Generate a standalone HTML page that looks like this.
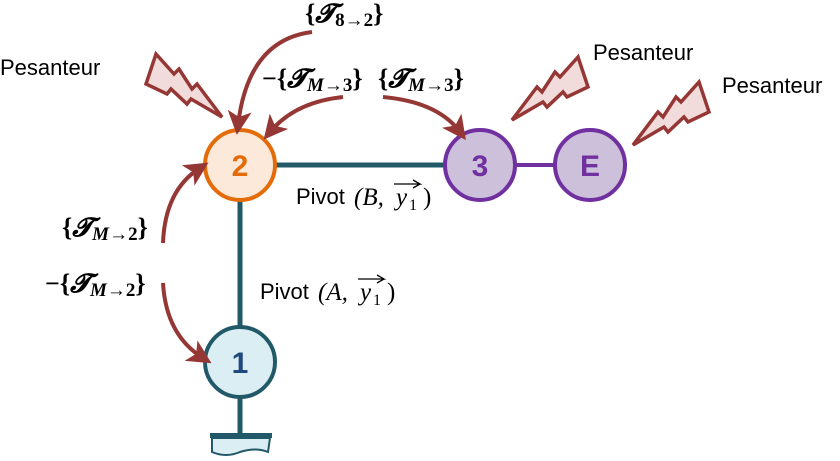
<!DOCTYPE html>
<html><head><meta charset="utf-8"><style>
body{margin:0;background:#fff;}
svg{display:block;font-family:"Liberation Sans",sans-serif;}
.m{font-family:"Liberation Serif",serif;font-weight:bold;}
.s{font-family:"Liberation Serif",serif;font-style:italic;}
</style></head><body>
<svg width="840" height="461" viewBox="0 0 840 461" xmlns="http://www.w3.org/2000/svg">
<defs>
<marker id="ah" markerWidth="6" markerHeight="6" refX="3.5" refY="3" orient="auto" markerUnits="strokeWidth">
<path d="M0,0 L6,3 L0,6 L1.5,3 z" fill="#953735"/></marker>
<g id="bolt"><polygon points="512,120 537,87 542,92 555,72 560,77 578,57 588,87 567,97 563,92 547,107 543,102" fill="#f2dcdb" stroke="#953735" stroke-width="3.5" stroke-linejoin="miter"/></g>
</defs>
<line x1="240" y1="165" x2="480" y2="165" stroke="#215968" stroke-width="5"/>
<line x1="240" y1="165" x2="240" y2="362" stroke="#215968" stroke-width="5"/>
<line x1="240" y1="362" x2="240" y2="434" stroke="#215968" stroke-width="5"/>
<line x1="480" y1="165" x2="590" y2="165" stroke="#7030a0" stroke-width="4"/>
<path d="M212,438 L212,452 Q226,458 240,452 Q256,447 268,452 L270,438 Z" fill="#dbeef4" stroke="#215968" stroke-width="2"/>
<rect x="210" y="433" width="62" height="5" fill="#215968"/>
<circle cx="240" cy="165" r="35" fill="#fde9d9" stroke="#e36c09" stroke-width="4"/>
<text x="240" y="176" text-anchor="middle" font-size="30" font-weight="bold" fill="#e36c09">2</text>
<circle cx="480" cy="165" r="35" fill="#ccc0da" stroke="#7030a0" stroke-width="4"/>
<text x="480" y="176" text-anchor="middle" font-size="30" font-weight="bold" fill="#7030a0">3</text>
<circle cx="590" cy="165" r="35" fill="#ccc0da" stroke="#7030a0" stroke-width="4"/>
<text x="590" y="176" text-anchor="middle" font-size="30" font-weight="bold" fill="#7030a0">E</text>
<circle cx="240" cy="362" r="35" fill="#dbeef4" stroke="#215968" stroke-width="4"/>
<text x="240" y="373" text-anchor="middle" font-size="30" font-weight="bold" fill="#1f497d">1</text>
<use href="#bolt"/>
<use href="#bolt" transform="translate(121,25)"/>
<use href="#bolt" transform="translate(734,-3) scale(-1,1)"/>
<g fill="none" stroke="#953735" stroke-width="4">
<path d="M312,32 Q248,40 238,125" marker-end="url(#ah)"/>
<path d="M343,97 Q295,102 270,132" marker-end="url(#ah)"/>
<path d="M383,97 Q438,102 460,132" marker-end="url(#ah)"/>
<path d="M163,243 Q165,190 200,168" marker-end="url(#ah)"/>
<path d="M163,283 Q166,335 203,358" marker-end="url(#ah)"/>
</g>
<text x="0" y="75" font-size="22">Pesanteur</text>
<text x="593" y="60" font-size="22">Pesanteur</text>
<text x="722" y="93" font-size="22">Pesanteur</text>
<g font-size="22">
<text x="296" y="204">Pivot</text>
<text x="260" y="299">Pivot</text>
</g>
<g class="s" font-size="25">
<text x="354" y="205">(B,</text>
<text x="396" y="205">y</text>
<text x="409" y="210" font-size="16" font-style="normal">1</text>
<text x="423" y="205" font-style="normal">)</text>
<text x="318" y="300">(A,</text>
<text x="360" y="300">y</text>
<text x="373" y="305" font-size="16" font-style="normal">1</text>
<text x="387" y="300" font-style="normal">)</text>
</g>
<path d="M394,184 L420,184 L413,180 M420,184 L413,188" stroke="#000" stroke-width="1.3" fill="none"/>
<path d="M358,279 L384,279 L377,275 M384,279 L377,283" stroke="#000" stroke-width="1.3" fill="none"/>
<g class="m" font-size="26">
<text x="305" y="22">{<tspan font-style="italic">𝓣</tspan><tspan font-size="19" dy="4">8→2</tspan><tspan dy="-4">}</tspan></text>
<text x="262" y="87">−{<tspan font-style="italic">𝓣</tspan><tspan font-size="19" dy="4" font-style="italic">M</tspan><tspan font-size="19">→3</tspan><tspan dy="-4">}</tspan></text>
<text x="378" y="87">{<tspan font-style="italic">𝓣</tspan><tspan font-size="19" dy="4" font-style="italic">M</tspan><tspan font-size="19">→3</tspan><tspan dy="-4">}</tspan></text>
<text x="62" y="236">{<tspan font-style="italic">𝓣</tspan><tspan font-size="19" dy="4" font-style="italic">M</tspan><tspan font-size="19">→2</tspan><tspan dy="-4">}</tspan></text>
<text x="45" y="292">−{<tspan font-style="italic">𝓣</tspan><tspan font-size="19" dy="4" font-style="italic">M</tspan><tspan font-size="19">→2</tspan><tspan dy="-4">}</tspan></text>
</g>
</svg>
</body></html>
